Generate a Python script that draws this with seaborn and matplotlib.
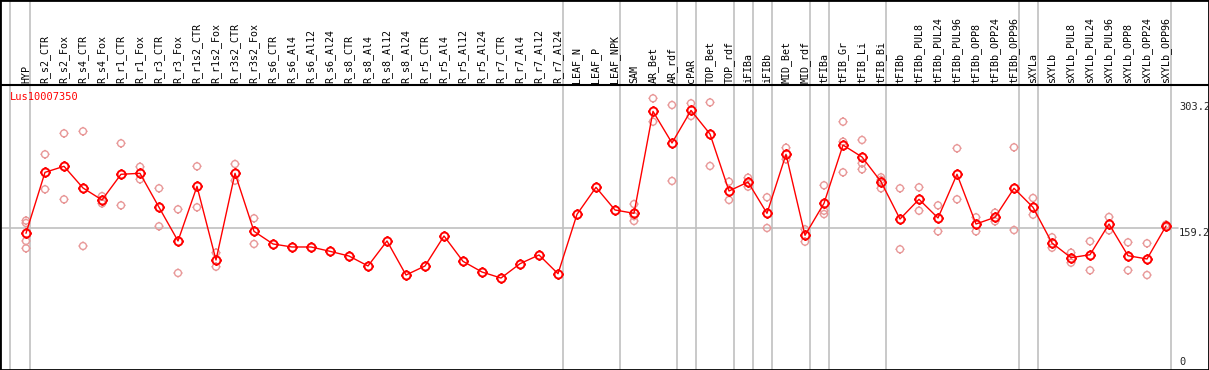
import numpy as np
import pandas as pd
import matplotlib
matplotlib.use("Agg")
import matplotlib.pyplot as plt
from matplotlib.path import Path
import seaborn as sns

# sample names (one column each)
samples = [
    "HYP", "R_s2_CTR", "R_s2_Fox", "R_s4_CTR", "R_s4_Fox", "R_r1_CTR", "R_r1_Fox",
    "R_r3_CTR", "R_r3_Fox", "R_r1s2_CTR", "R_r1s2_Fox", "R_r3s2_CTR", "R_r3s2_Fox",
    "R_s6_CTR", "R_s6_Al4", "R_s6_Al12", "R_s6_Al24", "R_s8_CTR", "R_s8_Al4",
    "R_s8_Al12", "R_s8_Al24", "R_r5_CTR", "R_r5_Al4", "R_r5_Al12", "R_r5_Al24",
    "R_r7_CTR", "R_r7_Al4", "R_r7_Al12", "R_r7_Al24", "LEAF_N", "LEAF_P", "LEAF_NPK",
    "SAM", "AR_Bet", "AR_rdf", "cPAR", "TOP_Bet", "TOP_rdf", "iFIBa", "iFIBb",
    "MID_Bet", "MID_rdf", "tFIBa", "tFIB_Gr", "tFIB_Li", "tFIB_Bi", "tFIBb",
    "tFIBb_PUL8", "tFIBb_PUL24", "tFIBb_PUL96", "tFIBb_OPP8", "tFIBb_OPP24", "tFIBb_OPP96",
    "sXYLa", "sXYLb", "sXYLb_PUL8", "sXYLb_PUL24", "sXYLb_PUL96", "sXYLb_OPP8",
    "sXYLb_OPP24", "sXYLb_OPP96",
]

# mean expression per sample
means = [
    152.4, 227.2, 234.6, 208.0, 193.3, 224.8, 226.0, 184.3, 143.0, 210.0, 119.6,
    226.0, 154.8, 139.3, 135.6, 135.6, 130.3, 124.5, 112.3, 143.0, 101.2, 112.3,
    149.1, 118.0, 104.9, 97.5, 115.1, 125.8, 102.8, 175.7, 208.8, 181.0,
    176.9, 302.0, 263.2, 303.2, 274.2, 204.3, 215.3, 176.9, 249.3, 149.9,
    189.2, 260.7, 246.0, 215.7, 169.9, 194.1, 171.2, 224.8, 163.8, 172.0, 207.6,
    184.3, 140.5, 122.5, 126.1, 163.8, 124.9, 120.9, 161.3,
]

# individual replicates (empty where none shown)
replicates = [
    [168, 165, 143, 134], [249.3, 206.4], [275, 194], [277.5, 136.8], [198, 189],
    [262.8, 186.7], [234, 218.6], [207.6, 161], [181.8, 103.7], [234.6, 184.3],
    [128.6, 111.4], [237.4, 217], [170.8, 139.3],
    [], [], [], [], [], [], [], [], [], [], [], [], [], [], [], [], [], [], [],
    [188.3, 173.6, 167.5], [318, 289.3], [309.8, 216.6], [311.9, 296.3],
    [313, 235], [215.7, 193.3], [220.6, 209.6], [196.6, 158.9], [257.4, 243.2],
    [157.3, 142.1], [211.3, 180.1, 176], [289.3, 264.8, 227.2],
    [266.9, 238.3, 230.9], [221.1, 217.8, 207.6], [207.6, 132.8], [208.8, 180.1],
    [186.7, 154.8], [256.7, 194.1], [172, 154.8], [177.7, 167.1], [257.9, 156.4],
    [195.7, 175.2], [147.5, 134.7], [128.6, 116.3], [142.6, 107], [172.4, 156],
    [141.3, 107], [140.1, 101.2], [163, 160],
]

# columns followed by a separator line
separators_after = [0, 28, 31, 34, 35, 37, 38, 39, 41, 42, 45, 52, 53, 60]

gene = "Lus10007350"
max_label = "303.2"
mid_value = 159.2

sns.set_style("white")
plt.rcParams['font.family'] = ['DejaVu Sans Mono']

df_mean = pd.DataFrame({'idx': np.arange(len(samples)), 'value': means})
rows = [(i, v) for i, reps in enumerate(replicates) for v in reps]
df_rep = pd.DataFrame(rows, columns=['idx', 'value'])

# open circle with four short ticks
circ = Path.unit_circle()
tick_path = Path([(0, 1), (0, 1.3), (0, -1), (0, -1.3), (1, 0), (1.3, 0), (-1, 0), (-1.3, 0)],
                 [Path.MOVETO, Path.LINETO] * 4)
tick_marker = Path.make_compound_path(circ, tick_path)

W, H = 1209, 370
fig = plt.figure(figsize=(W / 100, H / 100), dpi=100)
ax = fig.add_axes([0, 0, 1, 1])

# pixel geometry -> data limits
px_per_col = 19.0
x0 = 26.0
px_per_unit = 0.815
y_zero = 357.5
ax.set_xlim(-x0 / px_per_col, (W - x0) / px_per_col)
ax.set_ylim((y_zero - H) / px_per_unit, y_zero / px_per_unit)

def v_at(ypix):
    return (y_zero - ypix) / px_per_unit

def i_at(xpix):
    return (xpix - x0) / px_per_col

# grid lines
ax.axvline(i_at(10.5), color='#c0c0c0', lw=1.2, zorder=1)
for s in separators_after:
    ax.axvline(s + 4.5 / px_per_col, color='#c0c0c0', lw=1.2, zorder=1)
ax.axhline(mid_value, xmin=2 / W, xmax=1178 / W, color='#c0c0c0', lw=1.2, zorder=1)
ax.axhline(v_at(85), color='black', lw=1.5, zorder=2)

# replicate points (light) and mean profile (red)
sns.scatterplot(data=df_rep, x='idx', y='value', ax=ax, marker=tick_marker, s=42,
                facecolors='none', edgecolor='#e89898', linewidth=1.0, zorder=3)
sns.lineplot(data=df_mean, x='idx', y='value', ax=ax, color='red', lw=1.0, zorder=4)
ax.plot(df_mean['idx'], df_mean['value'], ls='none', marker=tick_marker, markersize=7.5,
        markerfacecolor='none', markeredgecolor='red', markeredgewidth=1.4, zorder=5)

# sample labels in the header
for i, name in enumerate(samples):
    ax.text(i, v_at(83), name, rotation=90, ha='center', va='bottom',
            fontsize=7.2, color='black')

ax.text(i_at(10), v_at(97), gene, color='red', fontsize=7.5, ha='left', va='center')
ax.text(i_at(1179), v_at(106.7), max_label, fontsize=7.5, ha='left', va='center')
ax.text(i_at(1179), v_at(232.7), f"{mid_value}", fontsize=7.5, ha='left', va='center')
ax.text(i_at(1179), v_at(361.7), "0", fontsize=7.5, ha='left', va='center')

ax.set_xlabel('')
ax.set_ylabel('')
ax.set_xticks([])
ax.set_yticks([])
for sp in ax.spines.values():
    sp.set_visible(True)
    sp.set_color('black')
    sp.set_linewidth(2)

fig.savefig('out.png', dpi=100)
